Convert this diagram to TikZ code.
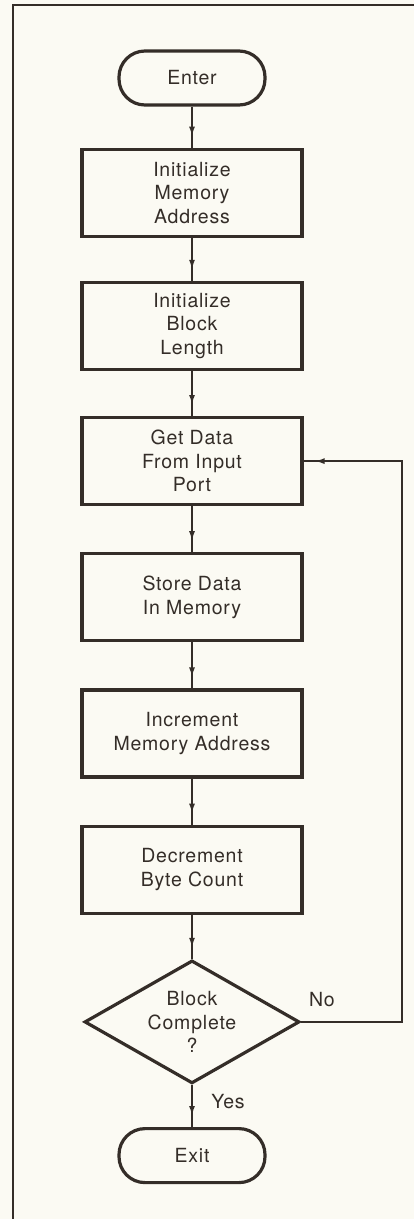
\documentclass[tikz,border=0pt]{standalone}
\usepackage{fontspec}
\setmainfont{TeX Gyre Heros}[LetterSpace=4.0]
\usetikzlibrary{arrows.meta,positioning,shapes.geometric,decorations.markings}
\definecolor{ink}{RGB}{52,45,40}
\definecolor{paper}{RGB}{251,250,243}

\begin{document}
\begin{tikzpicture}[
        x=1pt, y=1pt,
        node distance=46pt,
        every node/.style={text=ink, font=\fontsize{19.5}{23.5}\selectfont},
        box/.style={draw=ink, line width=3.2pt, align=center, minimum width=220pt, minimum height=87pt, inner sep=0pt},
        term/.style={draw=ink, line width=3.2pt, rounded corners=26pt, minimum width=146pt, minimum height=54pt},
        decide/.style={draw=ink, line width=3.2pt, diamond, aspect=1.75, align=center, minimum width=215pt, minimum height=123pt, inner sep=0pt},
        flow/.style={draw=ink, line width=2.2pt, postaction={decorate},
            decoration={markings, mark=at position -11pt with {\arrow{Latex[length=10pt,width=6pt]}}}},
        lbl/.style={inner sep=0pt}
    ]
        \fill[paper] (0,0) rectangle (414,-1219);
        \useasboundingbox (0,0) rectangle (414,-1219);
        \draw[ink, line width=1.4pt] (13,-1219) -- (13,-5) -- (414,-5);

        \node[term] (enter) at (192,-78) {Enter};
        \node[box, below=41pt of enter] (initaddr) {Initialize\\Memory\\Address};
        \node[box, below=43pt of initaddr] (initlen) {Initialize\\Block\\Length};
        \node[box, below=45pt of initlen] (getdata) {Get Data\\From Input\\Port};
        \node[box, below=of getdata] (store) {Store Data\\In Memory};
        \node[box, below=of store] (incr) {Increment\\Memory Address};
        \node[box, below=of incr] (decr) {Decrement\\Byte Count};
        \node[decide, below=44pt of decr] (done) {Block\\Complete\\?};
        \node[term, below=42pt of done] (exit) {Exit};

        \node[lbl] (no) at (322,-1000) {No};
        \node[lbl] (yes) at (228,-1102) {Yes};

        \draw[flow] (enter) -- (initaddr);
        \draw[flow] (initaddr) -- (initlen);
        \draw[flow] (initlen) -- (getdata);
        \draw[flow] (getdata) -- (store);
        \draw[flow] (store) -- (incr);
        \draw[flow] (incr) -- (decr);
        \draw[flow] (decr) -- (done);
        \draw[flow] (done) -- (exit);
        \draw[flow] (done.east) -- ++(101,0) coordinate (turn) |- (getdata.east);
    \end{tikzpicture}
\end{document}
